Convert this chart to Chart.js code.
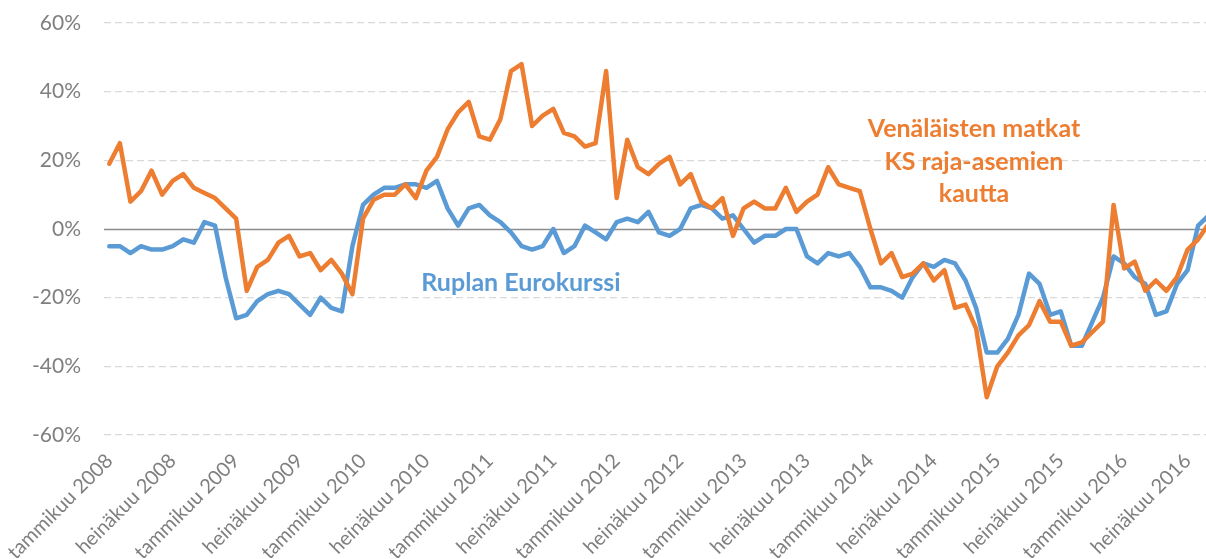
<!DOCTYPE html>
<html>
<head>
<meta charset="utf-8">
<script src="https://cdn.jsdelivr.net/npm/chart.js@4"></script>
<style>
  html, body { margin: 0; padding: 0; background: #fff; overflow: hidden; }
  #wrap { width: 1206px; height: 559px; overflow: hidden; position: relative; }
  #chart { display: block; }
</style>
</head>
<body>
<div id="wrap"><canvas id="chart" width="1216" height="559"></canvas></div>
<script>
const monthNames = ['tammikuu', 'helmikuu', 'maaliskuu', 'huhtikuu', 'toukokuu', 'kesäkuu',
  'heinäkuu', 'elokuu', 'syyskuu', 'lokakuu', 'marraskuu', 'joulukuu'];
const years = [2008, 2009, 2010, 2011, 2012, 2013, 2014, 2015, 2016];
const monthCount = 105; // tammikuu 2008 - syyskuu 2016

// Venäläisten matkat KS raja-asemien kautta, muutos %
const travelChange = [
  19, 25, 8, 11, 17, 10, 14, 16, 12, 10.5, 9, 6,
  3, -18, -11, -9, -4, -2, -8, -7, -12, -9, -13, -19,
  3, 8.5, 10, 10, 13, 9, 17, 21, 29, 34, 37, 27,
  26, 32, 46, 48, 30, 33, 35, 28, 27, 24, 25, 46,
  9, 26, 18, 16, 19, 21, 13, 16, 8, 6, 9, -2,
  6, 8, 6, 6, 12, 5, 8, 10, 18, 13, 12, 11,
  0, -10, -7, -14, -13, -10, -15, -12, -23, -22, -29, -49,
  -40, -36, -31, -28, -21, -27, -27, -34, -33, -30, -27, 7,
  -11.5, -9.5, -18, -15, -18, -14, -6, -3, 1.5
];

// Ruplan eurokurssi, muutos %
const rubleChange = [
  -5, -5, -7, -5, -6, -6, -5, -3, -4, 2, 1, -14,
  -26, -25, -21, -19, -18, -19, -22, -25, -20, -23, -24, -5,
  7, 10, 12, 12, 13, 13, 12, 14, 6, 1, 6, 7,
  4, 2, -1, -5, -6, -5, 0, -7, -5, 1, -1, -3,
  2, 3, 2, 5, -1, -2, 0, 6, 7, 6, 3, 4,
  0, -4, -2, -2, 0, 0, -8, -10, -7, -8, -7, -11,
  -17, -17, -18, -20, -14, -10, -11, -9, -10, -15, -23, -36,
  -36, -32, -25, -13, -16, -25, -24, -34, -34, -27, -20, -8,
  -10, -14, -16, -25, -24, -16, -12, 1, 4
];

const yTicks = [-60, -40, -20, 0, 20, 40, 60];
const labelEvery = 6;

const ORANGE = '#ED7D31';
const BLUE = '#5B9BD5';
const TICK_GREY = '#7f7f7f';

const categories = [];
years.forEach(y => {
  monthNames.forEach(m => {
    if (categories.length < monthCount) categories.push(m + ' ' + y);
  });
});

// --- zero line under the series ---
const zeroLine = {
  id: 'zeroLine',
  beforeDatasetsDraw(chart) {
    const { ctx, chartArea, scales } = chart;
    const y = Math.round(scales.y.getPixelForValue(0)) + 0.5;
    ctx.save();
    ctx.strokeStyle = '#8c8c8c';
    ctx.lineWidth = 1.5;
    ctx.beginPath();
    ctx.moveTo(chartArea.left, y);
    ctx.lineTo(chartArea.right, y);
    ctx.stroke();
    ctx.restore();
  }
};

// --- series captions ---
const captions = {
  id: 'captions',
  afterDatasetsDraw(chart) {
    const ctx = chart.ctx;
    ctx.save();
    ctx.textAlign = 'center';
    ctx.textBaseline = 'alphabetic';
    ctx.font = 'bold 25px Lato';
    ctx.fillStyle = ORANGE;
    ctx.fillText('Venäläisten matkat', 974, 137);
    ctx.fillText('KS raja-asemien', 974, 170);
    ctx.fillText('kautta', 974, 202);
    ctx.fillStyle = BLUE;
    ctx.fillText('Ruplan Eurokurssi', 521, 291);
    ctx.restore();
  }
};

new Chart(document.getElementById('chart'), {
  type: 'line',
  data: {
    labels: categories,
    datasets: [
      {
        label: 'Venäläisten matkat KS raja-asemien kautta',
        data: travelChange,
        borderColor: ORANGE,
        borderWidth: 4.5,
        pointRadius: 0,
        tension: 0,
        borderJoinStyle: 'round',
        borderCapStyle: 'round'
      },
      {
        label: 'Ruplan Eurokurssi',
        data: rubleChange,
        borderColor: BLUE,
        borderWidth: 4.5,
        pointRadius: 0,
        tension: 0,
        borderJoinStyle: 'round',
        borderCapStyle: 'round'
      }
    ]
  },
  options: {
    responsive: false,
    animation: false,
    layout: { padding: { top: 23, right: 2, bottom: 0, left: 0 } },
    plugins: {
      legend: { display: false },
      tooltip: { enabled: false }
    },
    scales: {
      x: {
        offset: true,
        grid: { display: false },
        border: { display: false },
        ticks: {
          autoSkip: false,
          maxRotation: 45,
          minRotation: 45,
          padding: 6,
          color: TICK_GREY,
          font: { family: 'Lato', size: 20 },
          callback: (v, i) => (i % labelEvery === 0 ? categories[i] : null)
        },
        afterFit: scale => { scale.height = 124; }
      },
      y: {
        min: yTicks[0],
        max: yTicks[yTicks.length - 1],
        afterBuildTicks: scale => { scale.ticks = yTicks.map(v => ({ value: v })); },
        grid: {
          drawTicks: true,
          tickLength: 23,
          tickColor: 'rgba(0,0,0,0)',
          lineWidth: 1.3,
          color: c => (c.tick && c.tick.value === 0 ? 'rgba(0,0,0,0)' : '#d9d9d9')
        },
        border: { display: false, dash: [7, 4] },
        ticks: {
          padding: 0,
          color: TICK_GREY,
          font: { family: 'Lato', size: 21 },
          callback: v => v + '%'
        },
        afterFit: scale => { scale.width = 104; }
      }
    }
  },
  plugins: [zeroLine, captions]
});
</script>
</body>
</html>
